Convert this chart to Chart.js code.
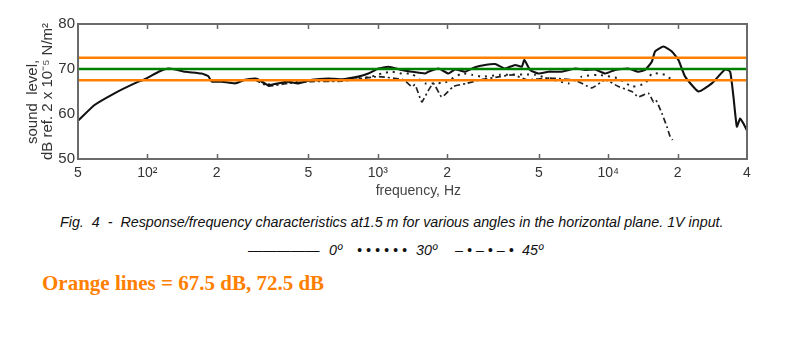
<!DOCTYPE html>
<html>
<head>
<meta charset="utf-8">
<script src="https://cdn.jsdelivr.net/npm/chart.js@4/dist/chart.umd.min.js"></script>
<style>
  html, body { margin:0; padding:0; background:#fff; width:799px; height:360px; overflow:hidden; }
  #wrap { position:absolute; left:0; top:0; width:799px; height:210px; }
  .t { position:absolute; white-space:pre; font-family:"Liberation Sans", Arial, sans-serif; color:#111; }
  .cap { font-style:italic; font-size:14.3px; }
  .org { font-family:"Liberation Serif", "Times New Roman", serif; font-weight:bold; font-size:21px; color:#ff8000; }
</style>
</head>
<body>
<div id="wrap"><canvas id="c"></canvas></div>
<div class="t cap" style="left:60px; top:214px;">Fig.  4  -  Response/frequency characteristics at1.5 m for various angles in the horizontal plane. 1V input.</div>
<div class="t cap" style="left:248px; top:242px;">—————</div>
<div class="t cap" style="left:329px; top:242px;">0º</div>
<div class="t cap" style="left:357px; top:242px;">• • • • • •</div>
<div class="t cap" style="left:416px; top:242px;">30º</div>
<div class="t cap" style="left:455px; top:242px;">– • – • – •</div>
<div class="t cap" style="left:522px; top:242px;">45º</div>
<div class="t org" style="left:42px; top:271px;">Orange lines = 67.5 dB, 72.5 dB</div>
<script>
// ---- data ----
const xTickValues = [50,100,200,500,1000,2000,5000,10000,20000,40000];
const xTickLabels = ['5','10²','2','5','10³','2','5','10⁴','2','4'];
const yTickValues = [50,60,70,80];

const freq0 = [50,59,72,88,99,112,123,132,146,172,184,190,210,240,265,293,303,335,370,409,452,517,610,698,823,910,1006,1111,1270,1404,1603,1657,1832,2024,2164,2392,2643,2921,3228,3567,3942,4215,4325,4579,4974,5498,6287,7178,7933,8768,9690,10709,12230,13515,14454,15452,15969,17355,18874,20163,21555,24625,28144,32154,33805,34940,36141,37347,38594,39930];
const db0 = [58.5,62.0,64.6,66.8,67.9,69.4,70.1,69.9,69.4,69.0,68.4,67.2,67.2,66.8,67.6,67.9,67.7,66.4,66.8,67.2,66.8,67.6,67.9,67.7,68.3,69.0,70.1,70.5,69.8,69.4,69.0,69.4,70.1,69.0,69.9,69.4,70.4,70.9,71.1,70.1,70.9,70.5,72.0,69.8,69.0,69.4,69.4,70.1,69.8,69.9,69.0,69.8,70.1,69.4,69.8,71.6,73.9,75.0,73.9,72.0,68.3,65.0,66.8,69.9,69.4,63.8,57.2,59.0,57.9,56.4];

const freq30 = [293,335,409,517,698,823,940,1040,1149,1270,1404,1603,1772,1958,2314,2557,2825,3393,4813,6714,7675,9060,11065,12654,14454,15452,16508,17647,18874];
const db30 = [67.8,66.6,67.0,67.4,67.5,68.0,68.3,69.0,69.4,69.0,68.9,66.8,66.8,67.0,69.0,68.7,68.3,68.7,68.7,66.8,68.3,68.7,67.9,66.1,66.8,69.0,69.0,68.7,67.6];

const freq45 = [293,335,409,517,698,823,1006,1291,1404,1451,1552,1631,1742,1895,2128,2432,2778,3393,3876,4431,5498,7178,8500,9690,11065,12654,13515,14939,15704,16100,17078,17954,18554,19024];
const db45 = [67.6,66.2,66.8,67.2,67.3,67.8,68.3,67.6,66.1,66.5,62.7,64.6,66.8,63.8,66.1,66.8,67.6,68.3,68.7,67.6,68.0,67.5,65.8,67.6,66.1,65.0,63.8,64.6,62.7,63.1,60.2,57.2,55.0,54.2];

const refX = [50, 40000];
const orangeLevels = [67.5, 72.5];
const greenLevel = 70;

const pts = (xs, ys) => xs.map((x, i) => ({x, y: ys[i]}));

const frame = {
  id: 'frame',
  afterDatasetsDraw(chart) {
    const {ctx, chartArea: a, scales: {x}} = chart;
    ctx.save();
    ctx.strokeStyle = '#666';
    ctx.lineWidth = 1.5;
    xTickValues.forEach((v, i) => {
      if (i === 0 || i === xTickValues.length - 1) return;
      const px = Math.round(x.getPixelForValue(v)) + 0.5;
      ctx.beginPath();
      ctx.moveTo(px, a.bottom); ctx.lineTo(px, a.bottom - 5);
      ctx.moveTo(px, a.top); ctx.lineTo(px, a.top + 5);
      ctx.stroke();
    });
    ctx.lineWidth = 2;
    ctx.strokeStyle = '#6a6a6a';
    ctx.strokeRect(a.left, a.top, a.right - a.left, a.bottom - a.top);
    ctx.restore();
  }
};

const refStyle = (c) => ({borderColor: c, borderWidth: 2.4, pointRadius: 0, fill: false, tension: 0});

new Chart(document.getElementById('c'), {
  type: 'line',
  data: {
    datasets: [
      Object.assign({label: '72.5', data: pts(refX, [orangeLevels[1], orangeLevels[1]])}, refStyle('#ff8000')),
      Object.assign({label: '70', data: pts(refX, [greenLevel, greenLevel])}, refStyle('#008000')),
      Object.assign({label: '67.5', data: pts(refX, [orangeLevels[0], orangeLevels[0]])}, refStyle('#ff8000')),
      {label: '0º', data: pts(freq0, db0), borderColor: '#111', borderWidth: 2.1, pointRadius: 0, tension: 0.15},
      {label: '30º', data: pts(freq30, db30), borderColor: '#222', borderWidth: 2, borderDash: [2, 5], pointRadius: 0, tension: 0.15},
      {label: '45º', data: pts(freq45, db45), borderColor: '#222', borderWidth: 1.7, borderDash: [6, 3, 2, 3], pointRadius: 0, tension: 0.15}
    ]
  },
  options: {
    responsive: true,
    maintainAspectRatio: false,
    animation: false,
    layout: {padding: {left: 0, top: 24, right: 52, bottom: 0}},
    plugins: {legend: {display: false}, tooltip: {enabled: false}},
    scales: {
      x: {
        type: 'logarithmic',
        min: 50, max: 40000,
        afterFit(s) { s.height = 51; },
        afterBuildTicks(s) { s.ticks = xTickValues.map(v => ({value: v})); },
        grid: {display: false, drawTicks: false},
        border: {display: false},
        ticks: {
          autoSkip: false, maxRotation: 0, padding: 6,
          color: '#333', font: {family: 'Liberation Sans, Arial, sans-serif', size: 14},
          callback: (v, i) => xTickLabels[i]
        },
        title: {
          display: true, text: '   frequency, Hz', color: '#444',
          font: {family: 'Liberation Sans, Arial, sans-serif', size: 14, lineHeight: 1.2},
          padding: {top: 0, bottom: 10}
        }
      },
      y: {
        min: 50, max: 80,
        afterFit(s) { s.width = 78; },
        afterBuildTicks(s) { s.ticks = yTickValues.map(v => ({value: v})); },
        grid: {display: false, drawTicks: false},
        border: {display: false},
        ticks: {
          padding: 3, color: '#333',
          font: {family: 'Liberation Sans, Arial, sans-serif', size: 15}
        },
        title: {
          display: true,
          text: ['sound  level,     ', 'dB ref. 2 x 10⁻⁵ N/m²'],
          color: '#333',
          font: {family: 'Liberation Sans, Arial, sans-serif', size: 15, lineHeight: 1.0},
          padding: {top: 25, bottom: 0}
        }
      }
    }
  },
  plugins: [frame]
});
</script>
</body>
</html>
